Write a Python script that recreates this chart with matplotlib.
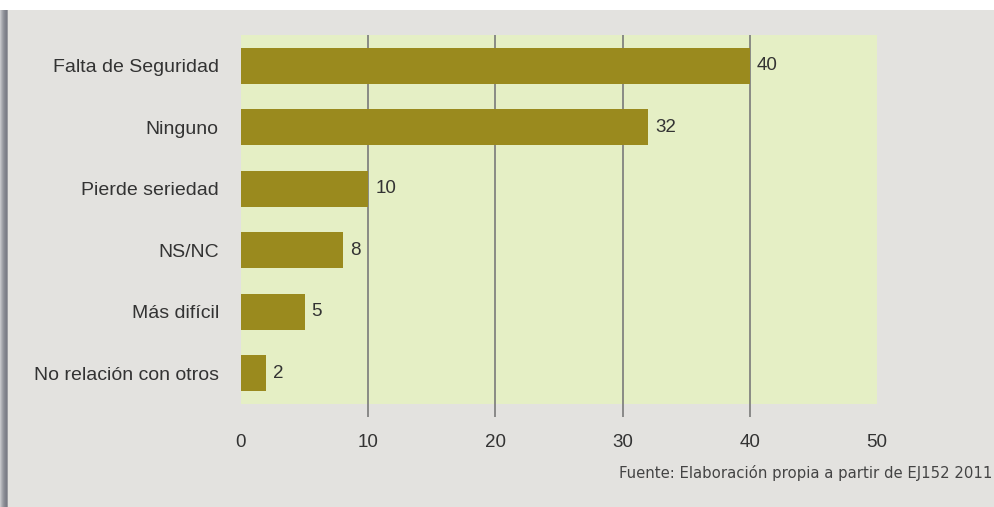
import matplotlib
matplotlib.use('Agg')
import matplotlib.pyplot as plt
from matplotlib.patches import Rectangle

categories = ['Falta de Seguridad', 'Ninguno', 'Pierde seriedad', 'NS/NC', 'Más difícil', 'No relación con otros']
values = [40, 32, 10, 8, 5, 2]
xticks = [0, 10, 20, 30, 40, 50]
source = 'Fuente: Elaboración propia a partir de EJ152 2011'

plt.rcParams['font.family'] = ['Liberation Sans', 'DejaVu Sans']

fig = plt.figure(figsize=(9.94, 5.07), dpi=100)
fig.patch.set_facecolor('white')

# grey panel with a soft shadow on the left edge
shades = ['#c4c5c9', '#b2b3b8', '#a1a3a9', '#93959c', '#888a92', '#80828b', '#7b7d86', '#9a9ba0']
for i, c in enumerate(shades):
    fig.patches.append(Rectangle((i / 994, 0), 1.05 / 994, (507 - 10) / 507,
                                 transform=fig.transFigure, color=c, lw=0, zorder=-10))
fig.patches.append(Rectangle((8 / 994, 0), 1, (507 - 10) / 507,
                             transform=fig.transFigure, color='#e3e2df', lw=0, zorder=-9))

ax = fig.add_axes([241 / 994, 103 / 507, 636 / 994, 369 / 507])
ax.set_zorder(5)
ax.set_facecolor('#e5efc5')

pos = list(range(len(categories)))
bars = ax.barh(pos, values, height=0.58, color='#9a8a1e')
ax.bar_label(bars, labels=[str(v) for v in values], padding=5, fontsize=13.5, color='#333333')

ax.set_xlim(0, 50)
ax.set_ylim(len(categories) - 0.5, -0.5)
ax.set_yticks(pos, categories)
ax.set_xticks(xticks, [str(t) for t in xticks])

for s in ax.spines.values():
    s.set_visible(False)

ax.set_axisbelow(True)
ax.grid(axis='x', color='#7a7a7a', lw=1.2)
ax.tick_params(axis='x', length=9.5, width=1.2, color='#7a7a7a', direction='out',
               pad=12, labelsize=13.5, labelcolor='#333333')
ax.tick_params(axis='y', length=0, pad=16, labelsize=14, labelcolor='#333333')
for i in (0, -1):
    t = ax.xaxis.get_major_ticks()[i]
    t.tick1line.set_visible(False)
    t.gridline.set_visible(False)

fig.text(992 / 994, 1 - 473 / 507, source, ha='right', va='center', fontsize=10.7,
         color='#444444', family=['DejaVu Sans'])

fig.savefig('out.png', dpi=100)
